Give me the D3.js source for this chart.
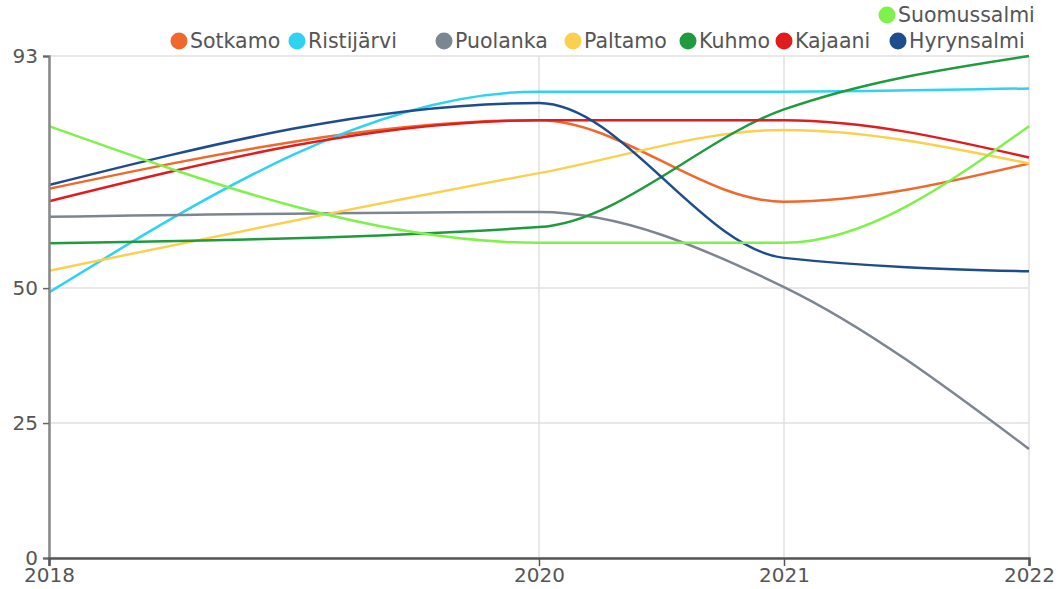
<!DOCTYPE html>
<html>
<head>
<meta charset="utf-8">
<script src="https://cdn.jsdelivr.net/npm/d3@7"></script>
<style>
  body { margin: 0; background: #fff; }
  text { font-family: "DejaVu Sans", sans-serif; }
</style>
</head>
<body>
<div id="chart"></div>
<script>
// Data
var years = [2018, 2020, 2021, 2022];
var sotkamo = [68.4, 81.1, 66.0, 73.1];
var ristijarvi = [49.2, 86.4, 86.4, 87.0];
var puolanka = [63.2, 64.1, 50.2, 20.2];
var paltamo = [53.2, 71.3, 79.3, 73.1];
var kuhmo = [58.3, 61.3, 83.1, 93.0];
var kajaani = [66.1, 81.1, 81.1, 74.2];
var hyrynsalmi = [69.1, 84.3, 55.6, 53.1];
var suomussalmi = [80.0, 58.4, 58.4, 80.0];
var yTicks = [0, 25, 50, 93];

var names = ["Sotkamo", "Ristijärvi", "Puolanka", "Paltamo", "Kuhmo", "Kajaani", "Hyrynsalmi", "Suomussalmi"];
var values = [sotkamo, ristijarvi, puolanka, paltamo, kuhmo, kajaani, hyrynsalmi, suomussalmi];
var colors = ["#f0692c", "#2ed3f2", "#7c8592", "#fbd04e", "#1f9a3d", "#e01c1f", "#1e4c8c", "#7ef24b"];

// Legend layout (circle centre x, row)
var legendX = [179, 297, 444, 573, 688, 784, 898, 887];
var legendRow = [1, 1, 1, 1, 1, 1, 1, 0];

var width = 1058, height = 589;
var svg = d3.select("#chart").append("svg")
  .attr("width", width)
  .attr("height", height);

var x = d3.scaleLinear().domain([2018, 2022]).range([49, 1029]);
var y = d3.scaleLinear().domain([0, 93]).range([558, 56]);

// Grid
svg.append("g").selectAll("line.h")
  .data(yTicks)
  .enter().append("line")
  .attr("x1", x(2018)).attr("x2", x(2022))
  .attr("y1", function(d) { return y(d); })
  .attr("y2", function(d) { return y(d); })
  .style("stroke", "#e0e0e0")
  .style("stroke-width", 1.5);

svg.append("g").selectAll("line.v")
  .data(years)
  .enter().append("line")
  .attr("x1", function(d) { return x(d); })
  .attr("x2", function(d) { return x(d); })
  .attr("y1", y(0)).attr("y2", y(93))
  .style("stroke", "#e0e0e0")
  .style("stroke-width", 1.5);

// Lines
var line = d3.line()
  .x(function(d, i) { return x(years[i]); })
  .y(function(d) { return y(d); })
  .curve(d3.curveMonotoneX);

svg.append("g").selectAll("path")
  .data(values)
  .enter().append("path")
  .attr("d", line)
  .style("fill", "none")
  .style("stroke", function(d, i) { return colors[i]; })
  .style("stroke-width", 2.5);

// Axes
var yAxis = svg.append("g")
  .attr("transform", "translate(" + x(2018) + ",0)")
  .call(d3.axisLeft(y).tickValues(yTicks).tickSize(6).tickPadding(5));
yAxis.select(".domain").style("stroke", "#888").style("stroke-width", 2.5);
yAxis.selectAll(".tick line").style("stroke", "#666").style("stroke-width", 1.5);
yAxis.selectAll("text")
  .style("font-size", "20px")
  .style("font-family", "DejaVu Sans")
  .style("fill", "#555");

var xAxis = svg.append("g")
  .attr("transform", "translate(0," + y(0) + ")")
  .call(d3.axisBottom(x).tickValues(years).tickFormat(d3.format("d")).tickSize(8).tickPadding(2));
xAxis.select(".domain").style("stroke", "#555").style("stroke-width", 2.5);
xAxis.selectAll(".tick line").style("stroke", "#555").style("stroke-width", 1.5);
xAxis.selectAll("text")
  .style("font-size", "20px")
  .style("font-family", "DejaVu Sans")
  .style("fill", "#555");

// Legend
var rowY = [15, 41];
var legend = svg.append("g").selectAll("g")
  .data(names)
  .enter().append("g")
  .attr("transform", function(d, i) {
    return "translate(" + legendX[i] + "," + rowY[legendRow[i]] + ")";
  });

legend.append("circle")
  .attr("r", 8.5)
  .style("fill", function(d, i) { return colors[i]; });

legend.append("text")
  .attr("x", 11)
  .attr("dy", "0.35em")
  .style("font-size", "20.5px")
  .style("fill", "#555")
  .text(function(d) { return d; });
</script>
</body>
</html>
